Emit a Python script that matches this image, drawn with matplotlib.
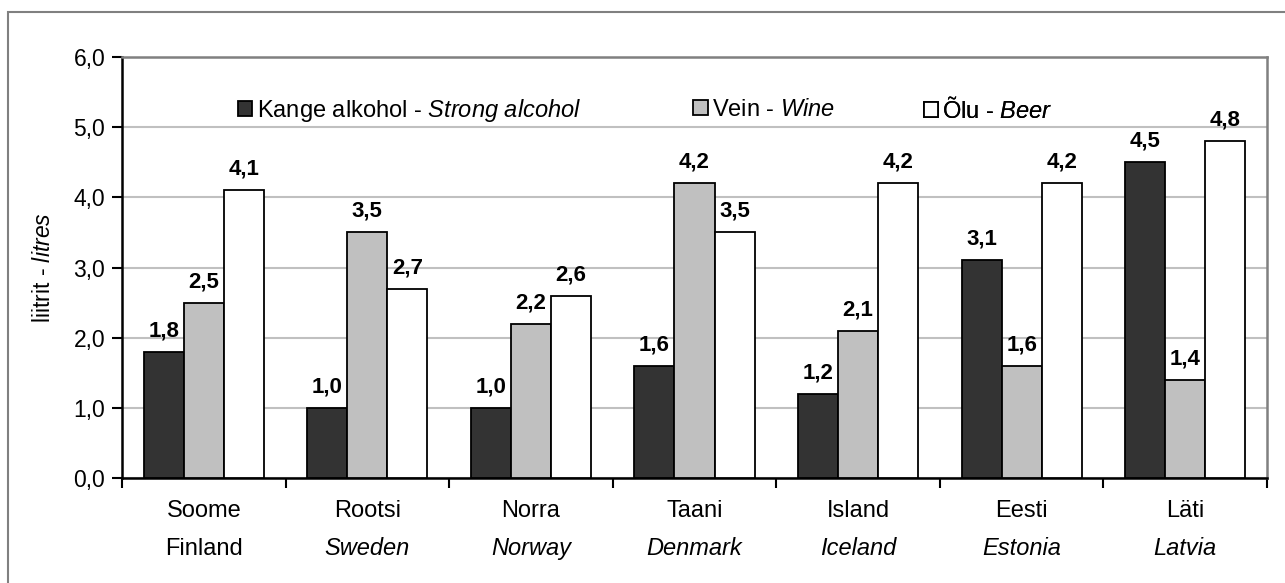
import numpy as np
import matplotlib
matplotlib.use("Agg")
import matplotlib.pyplot as plt
from matplotlib.patches import Rectangle

plt.rcParams['font.family'] = ['Liberation Sans', 'DejaVu Sans']
plt.rcParams['mathtext.fontset'] = 'custom'
plt.rcParams['mathtext.rm'] = 'Liberation Sans'
plt.rcParams['mathtext.it'] = 'Liberation Sans:italic'

countries_et = ['Soome', 'Rootsi', 'Norra', 'Taani', 'Island', 'Eesti', 'Läti']
countries_en = ['Finland', 'Sweden', 'Norway', 'Denmark', 'Iceland', 'Estonia', 'Latvia']
en_italic = [False, True, True, True, True, True, True]

strong = [1.8, 1.0, 1.0, 1.6, 1.2, 3.1, 4.5]
wine = [2.5, 3.5, 2.2, 4.2, 2.1, 1.6, 1.4]
beer = [4.1, 2.7, 2.6, 3.5, 4.2, 4.2, 4.8]

series = [
    (strong, '#333333', r'Kange alkohol - $\mathit{Strong\ alcohol}$'),
    (wine, '#c0c0c0', r'Vein - $\mathit{Wine}$'),
    (beer, '#ffffff', r'Õlu - $\mathit{Beer}$'),
]
legend_x = [0.101, 0.499, 0.700]

W, H = 1285, 583
fig = plt.figure(figsize=(W / 100, H / 100), dpi=100)
# outer frame (only top and left edges fall inside the image)
fig.patches.append(Rectangle((8 / W, -0.1), 1.2, 1 - 12 / H + 0.1,
                             transform=fig.transFigure, fill=False,
                             edgecolor='#808080', lw=1.5))

ax = fig.add_axes([122 / W, 1 - 478 / H, (1267 - 122) / W, (478 - 57) / H])

x = np.arange(len(countries_et))
w = 0.245
bars = []
for i, (vals, col, lab) in enumerate(series):
    pos = x + (i - 1) * w
    b = ax.bar(pos, vals, width=w, color=col, edgecolor='black', lw=1.3,
               label=lab, zorder=3)
    bars.append(b)
    for px, v in zip(pos, vals):
        ax.text(px, v + 0.15, f'{v:.1f}'.replace('.', ','), ha='center',
                va='bottom', fontsize=16, fontweight='bold', zorder=4)

ax.set_xlim(-0.5, len(x) - 0.5)
ax.set_ylim(0, 6)
yt = np.arange(0, 7, 1)
ax.set_yticks(yt)
ax.set_yticklabels([f'{t:.1f}'.replace('.', ',') for t in yt], fontsize=16.5)
ax.yaxis.grid(True, color='#c0c0c0', lw=1.5, zorder=0)
ax.set_axisbelow(True)

ax.set_xticks(np.arange(len(x) + 1) - 0.5)
ax.set_xticklabels([])
ax.tick_params(axis='x', length=7, width=1.5, direction='out')
ax.tick_params(axis='y', length=7, width=1.5, direction='out', pad=5)

for s in ['left', 'bottom']:
    ax.spines[s].set_linewidth(1.8)
for s in ['top', 'right']:
    ax.spines[s].set_color('#808080')
    ax.spines[s].set_linewidth(1.8)

trans = ax.get_xaxis_transform()
for xi, et, en, it in zip(x, countries_et, countries_en, en_italic):
    ax.text(xi, -0.093, et, transform=trans, ha='center', va='baseline',
            fontsize=17)
    ax.text(xi, -0.183, en, transform=trans, ha='center', va='baseline',
            fontsize=17, style='italic' if it else 'normal')

fig.text(43 / W, 1 - 268 / H, r'liitrit - $\mathit{litres}$', rotation=90,
         ha='center', va='center', fontsize=16.5)

# one legend box per series so each entry sits at its own position
for b, (vals, col, lab), lx in zip(bars, series, legend_x):
    leg = ax.legend([b], [lab], loc='center left', bbox_to_anchor=(lx, 0.874),
                    frameon=False, fontsize=17, handlelength=0.6,
                    handleheight=0.6, handletextpad=0.2, borderpad=0,
                    borderaxespad=0)
    ax.add_artist(leg)

fig.savefig('out.png', dpi=100)
